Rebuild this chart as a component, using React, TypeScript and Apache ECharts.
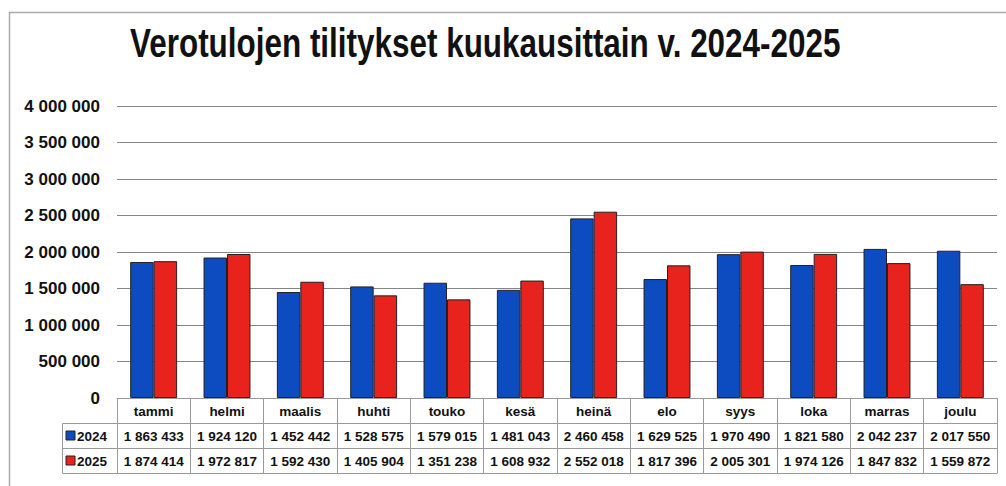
import React, { useEffect, useRef } from "react";
import * as echarts from "echarts";

const months = ["tammi", "helmi", "maalis", "huhti", "touko", "kesä", "heinä", "elo", "syys", "loka", "marras", "joulu"];
const values2024 = [1863433, 1924120, 1452442, 1528575, 1579015, 1481043, 2460458, 1629525, 1970490, 1821580, 2042237, 2017550];
const values2025 = [1874414, 1972817, 1592430, 1405904, 1351238, 1608932, 2552018, 1817396, 2005301, 1974126, 1847832, 1559872];
const yTicks = [0, 500000, 1000000, 1500000, 2000000, 2500000, 3000000, 3500000, 4000000];
const seriesNames = ["2024", "2025"];
const titleText = "Verotulojen tilitykset kuukausittain v. 2024-2025";

const BLUE = "#0c4cc0";
const RED = "#e8221c";
const LINE = "#9a9a9a";

const fmt = (n: number) => String(n).replace(/\B(?=(\d{3})+(?!\d))/g, " ");

export default function App() {
  const ref = useRef<HTMLDivElement>(null);
  useEffect(() => {
    if (!ref.current) return;
    const chart = echarts.init(ref.current, undefined, { renderer: "svg" });
    const font = "'Liberation Sans', Arial, sans-serif";
    const tableLabel = { fontFamily: font, fontWeight: "bold" as const, fontSize: 13.5, color: "#111", margin: 6 };
    const tableAxis = (offset: number, formatter: any, showLabel = true) => ({
      type: "category" as const,
      data: months,
      position: "bottom" as const,
      offset,
      gridIndex: 0,
      axisLine: { show: true, lineStyle: { color: LINE, width: 1 } },
      axisTick: { show: showLabel, length: 25, interval: 0, lineStyle: { color: LINE, width: 1 } },
      axisLabel: { show: showLabel, interval: 0, ...tableLabel, formatter },
      splitLine: { show: false },
    });
    chart.setOption({
      animation: false,
      backgroundColor: "#fff",
      grid: { left: 117, right: 9, top: 106, bottom: 88, containLabel: false },
      xAxis: [
        tableAxis(0, (v: string) => v),
        tableAxis(25, (_v: string, i: number) => fmt(values2024[i])),
        tableAxis(50, (_v: string, i: number) => fmt(values2025[i])),
        tableAxis(75, () => "", false),
      ],
      yAxis: {
        type: "value",
        min: yTicks[0],
        max: yTicks[yTicks.length - 1],
        interval: yTicks[1] - yTicks[0],
        axisLine: { show: false },
        axisTick: { show: false },
        axisLabel: {
          fontFamily: font,
          fontSize: 17,
          fontWeight: "bold",
          color: "#111",
          margin: 17,
          formatter: (v: number) => fmt(v),
        },
        splitLine: { show: true, lineStyle: { color: "#858585", width: 1 } },
      },
      series: [
        {
          name: seriesNames[0],
          type: "bar",
          xAxisIndex: 0,
          data: values2024,
          barGap: "0%",
          barCategoryGap: "36%",
          itemStyle: { color: BLUE, borderColor: "#222", borderWidth: 1 },
        },
        {
          name: seriesNames[1],
          type: "bar",
          xAxisIndex: 0,
          data: values2025,
          barGap: "0%",
          barCategoryGap: "36%",
          itemStyle: { color: RED, borderColor: "#222", borderWidth: 1 },
        },
      ],
      graphic: [
        {
          type: "rect",
          shape: { x: 9.5, y: 12.5, width: 1100, height: 600 },
          style: { fill: "none", stroke: "#aaa", lineWidth: 1.5 },
          silent: true,
        },
        {
          type: "text",
          x: 130,
          y: 23,
          scaleX: 0.786,
          style: {
            text: titleText,
            fontFamily: font,
            fontWeight: "bold",
            fontSize: 40,
            fill: "#111",
          },
        },
        {
          type: "rect",
          shape: { x: 62.5, y: 423.5, width: 55, height: 50 },
          style: { fill: "none", stroke: LINE, lineWidth: 1 },
        },
        {
          type: "line",
          shape: { x1: 62.5, y1: 448.5, x2: 117.5, y2: 448.5 },
          style: { stroke: LINE, lineWidth: 1 },
        },
        {
          type: "rect",
          shape: { x: 66, y: 431, width: 9, height: 9 },
          style: { fill: BLUE, stroke: "#222", lineWidth: 1 },
        },
        {
          type: "text",
          x: 77,
          y: 429,
          style: { text: seriesNames[0], fontFamily: font, fontWeight: "bold", fontSize: 13.5, fill: "#111" },
        },
        {
          type: "rect",
          shape: { x: 66, y: 456, width: 9, height: 9 },
          style: { fill: RED, stroke: "#222", lineWidth: 1 },
        },
        {
          type: "text",
          x: 77,
          y: 454,
          style: { text: seriesNames[1], fontFamily: font, fontWeight: "bold", fontSize: 13.5, fill: "#111" },
        },
      ],
    });
    return () => chart.dispose();
  }, []);
  return (
    <div
      ref={ref}
      style={{ position: "fixed", left: 0, top: 0, width: 1006, height: 486, background: "#fff" }}
    />
  );
}
